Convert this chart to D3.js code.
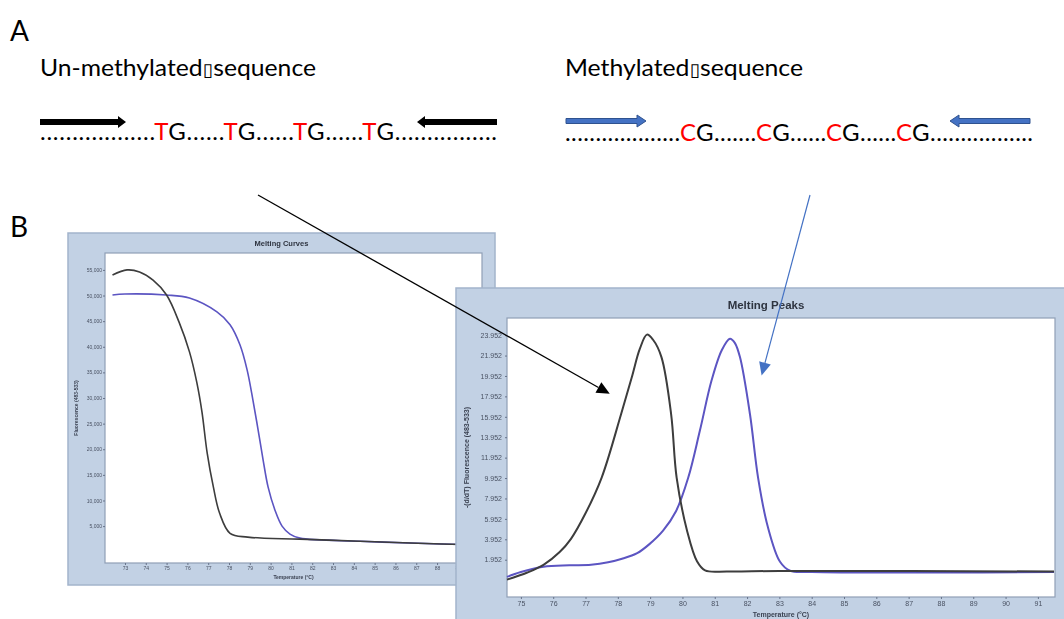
<!DOCTYPE html>
<html lang="en">
<head>
<meta charset="UTF-8">
<title>Methylation melting analysis</title>
<script src="https://d3js.org/d3.v7.min.js"></script>
<style>
  body { margin: 0; background: #fff; }
  svg { display: block; font-family: Lato, "Liberation Sans", sans-serif; }
</style>
</head>
<body>
<svg id="fig" width="1064" height="619"></svg>
<script>
// ---- data -----------------------------------------------------------
// Melting curves (left): temperature (°C) vs fluorescence
const curveTempUnmeth  = [72.4, 73.1, 73.7, 74.35, 75.0, 75.6, 76.1, 76.45, 76.7, 76.95, 77.25, 77.55, 78.05, 78.9, 81.4, 84.3, 86.7, 90.2];
const curveFluorUnmeth = [54.0, 55.0, 54.6, 53.0, 50.1, 44.8, 39.0, 33.1, 27.3, 19.3, 12.6, 7.5, 3.6, 2.85, 2.45, 2.05, 1.7, 1.3];
const curveTempMeth    = [72.4, 73.0, 75.0, 76.1, 77.42, 78.05, 78.53, 78.87, 79.15, 79.4, 79.64, 79.88, 80.21, 80.55, 80.93, 81.41, 84.3, 86.7, 90.2];
const curveFluorMeth   = [50.1, 50.3, 50.1, 49.5, 46.8, 44.3, 40.35, 35.5, 29.6, 23.75, 17.9, 12.6, 8.1, 5.0, 3.45, 2.65, 2.05, 1.7, 1.3];

// Melting peaks (right): temperature (°C) vs -d(F)/dT
const peakTempUnmeth = [74.57, 75.2, 75.7, 76.2, 76.55, 77.0, 77.5, 78.1, 78.43, 78.68, 78.9, 79.09, 79.35, 79.65, 79.82, 80.15, 80.45, 80.7, 81.4, 83.0, 91.5];
const peakValUnmeth  = [0.0, 0.7, 1.45, 2.7, 4.0, 6.5, 10.0, 16.2, 19.8, 22.6, 24.0, 23.5, 21.8, 16.2, 10.0, 4.7, 1.8, 0.9, 0.8, 0.85, 0.8];
const peakTempMeth   = [74.57, 75.0, 75.7, 76.5, 77.17, 77.7, 78.13, 78.6, 78.96, 79.4, 79.8, 80.18, 80.54, 80.9, 81.22, 81.47, 81.62, 81.78, 82.09, 82.34, 82.64, 83.02, 83.33, 84.0, 91.5];
const peakValMeth    = [0.27, 0.75, 1.26, 1.4, 1.46, 1.7, 2.05, 2.6, 3.43, 4.8, 6.7, 10.0, 14.6, 19.5, 22.5, 23.6, 23.2, 21.8, 16.2, 10.0, 5.2, 1.75, 0.87, 0.75, 0.75];

// tick values
const curveTempTicks  = d3.range(73, 91);
const curveFluorTicks = [5, 10, 15, 20, 25, 30, 35, 40, 45, 50, 55];
const peakTempTicks   = d3.range(75, 92);
const peakValTicks    = [1.952, 3.952, 5.952, 7.952, 9.952, 11.952, 13.952, 15.952, 17.952, 19.952, 21.952, 23.952];

// sequences (panel A)
const unmethSeq = [["..................", "k"], ["T", "r"], ["G", "k"], ["......", "k"], ["T", "r"], ["G", "k"],
                   ["......", "k"], ["T", "r"], ["G", "k"], ["......", "k"], ["T", "r"], ["G", "k"], ["................", "k"]];
const methSeq   = [["...................", "k"], ["C", "r"], ["G", "k"], [".......", "k"], ["C", "r"], ["G", "k"],
                   ["......", "k"], ["C", "r"], ["G", "k"], ["......", "k"], ["C", "r"], ["G", "k"], [".................", "k"]];

// ---- drawing --------------------------------------------------------
const svg = d3.select("#fig");
svg.append("rect").attr("width", 1064).attr("height", 619).attr("fill", "#fff");

const defs = svg.append("defs");
defs.append("filter").attr("id", "soft")
  .append("feGaussianBlur").attr("stdDeviation", 0.55);

// panel letters
svg.append("text").attr("x", 10).attr("y", 41).attr("font-size", 28).text("A");
svg.append("text").attr("x", 10).attr("y", 237).attr("font-size", 28).text("B");

// sequence titles
function seqTitle(x, y, first, len) {
  const t = svg.append("text").attr("x", x).attr("y", y).attr("font-size", 23)
    .attr("textLength", len).attr("lengthAdjust", "spacingAndGlyphs");
  t.append("tspan").text(first);
  t.append("tspan").attr("font-family", "DejaVu Sans").attr("font-size", 18).text("\u25AF");
  t.append("tspan").text("sequence");
}
seqTitle(40, 76, "Un-methylated", 276);
seqTitle(565, 76, "Methylated", 238);

function seqLine(x, y, segs, len) {
  const t = svg.append("text").attr("x", x).attr("y", y).attr("font-size", 24)
    .attr("textLength", len).attr("lengthAdjust", "spacing");
  segs.forEach(s => t.append("tspan").attr("fill", s[1] === "r" ? "#ff0000" : "#000").text(s[0]));
}
seqLine(40, 140, unmethSeq, 457);
seqLine(565, 141, methSeq, 468);

// primer block arrows
function blockArrow(xTail, xTip, y, thick, headH, headL, fill, stroke) {
  const d = xTip > xTail ? 1 : -1;
  const xb = xTip - d * headL;
  const pts = [[xTail, y - thick / 2], [xb, y - thick / 2], [xb, y - headH / 2], [xTip, y],
               [xb, y + headH / 2], [xb, y + thick / 2], [xTail, y + thick / 2]];
  svg.append("polygon").attr("points", pts.map(p => p.join(",")).join(" "))
    .attr("fill", fill).attr("stroke", stroke).attr("stroke-width", stroke === "none" ? 0 : 1);
}
blockArrow(40, 126, 122, 6, 12, 8, "#000", "none");
blockArrow(497, 417, 122, 6, 12, 8, "#000", "none");
blockArrow(566, 646, 121, 5, 12, 9, "#4472c4", "#2f528f");
blockArrow(1030, 950, 121, 5, 12, 9, "#4472c4", "#2f528f");

// melting chart panel
function meltPanel(cfg) {
  const g = svg.append("g").attr("filter", "url(#soft)");
  g.append("rect").attr("x", cfg.panel.x).attr("y", cfg.panel.y)
    .attr("width", cfg.panel.w).attr("height", cfg.panel.h)
    .attr("fill", "#c2d1e4").attr("stroke", "#a3b4cb").attr("stroke-width", 1.5);
  g.append("rect").attr("x", cfg.plot.x).attr("y", cfg.plot.y)
    .attr("width", cfg.plot.w).attr("height", cfg.plot.h)
    .attr("fill", "#fff").attr("stroke", "#8f9fb6").attr("stroke-width", 1.2);

  const x = d3.scaleLinear().domain(cfg.xDomain).range([cfg.plot.x, cfg.plot.x + cfg.plot.w]);
  const y = d3.scaleLinear().domain(cfg.yDomain).range([cfg.plot.y + cfg.plot.h, cfg.plot.y]);

  const xAxis = g.append("g").attr("transform", `translate(0,${cfg.plot.y + cfg.plot.h})`)
    .call(d3.axisBottom(x).tickValues(cfg.xTicks).tickSize(2).tickPadding(cfg.xPad).tickFormat(d3.format("d")));
  const yAxis = g.append("g").attr("transform", `translate(${cfg.plot.x},0)`)
    .call(d3.axisLeft(y).tickValues(cfg.yTicks).tickSize(2).tickPadding(cfg.yPad).tickFormat(cfg.yFormat));
  [xAxis, yAxis].forEach(a => {
    a.select(".domain").remove();
    a.selectAll("line").attr("stroke", "#67738a");
    a.selectAll("text").attr("fill", "#4a5263").attr("font-size", cfg.tickFont)
      .attr("font-family", "'Liberation Sans', sans-serif");
  });

  g.append("text").attr("x", cfg.panel.x + cfg.panel.w / 2).attr("y", cfg.titleY)
    .attr("text-anchor", "middle").attr("font-weight", "bold").attr("font-size", cfg.titleFont)
    .attr("font-family", "'Liberation Sans', sans-serif").attr("fill", "#2e3440").text(cfg.title);
  g.append("text").attr("x", cfg.plot.x + cfg.plot.w / 2).attr("y", cfg.xTitleY)
    .attr("text-anchor", "middle").attr("font-weight", "bold").attr("font-size", cfg.tickFont)
    .attr("font-family", "'Liberation Sans', sans-serif").attr("fill", "#3b4252").text("Temperature (\u00B0C)");
  g.append("text").attr("transform", `translate(${cfg.yTitleX},${cfg.plot.y + cfg.plot.h * cfg.yTitlePos}) rotate(-90)`)
    .attr("text-anchor", "middle").attr("font-weight", "bold").attr("font-size", cfg.tickFont)
    .attr("font-family", "'Liberation Sans', sans-serif").attr("fill", "#3b4252").text(cfg.yTitle);

  const line = d3.line().x(d => x(d[0])).y(d => y(d[1])).curve(d3.curveCatmullRom.alpha(0.5));
  g.append("path").datum(d3.zip(cfg.tMeth, cfg.vMeth)).attr("d", line)
    .attr("fill", "none").attr("stroke", "#5b54c2").attr("stroke-width", cfg.lw);
  g.append("path").datum(d3.zip(cfg.tUnmeth, cfg.vUnmeth)).attr("d", line)
    .attr("fill", "none").attr("stroke", "#3c3c3c").attr("stroke-width", cfg.lw);
  return { x, y };
}

meltPanel({
  panel: { x: 68, y: 233, w: 427, h: 352 },
  plot: { x: 105, y: 253, w: 377, h: 310 },
  xDomain: [72.04, 90.16], yDomain: [-2.2, 58.3],
  xTicks: curveTempTicks, yTicks: curveFluorTicks,
  yFormat: d => d3.format(",")(d * 1000),
  xPad: 1, yPad: 1, tickFont: 5,
  title: "Melting Curves", titleY: 246, titleFont: 7.5,
  xTitleY: 579, yTitle: "Fluorescence (483-533)", yTitleX: 78, yTitlePos: 0.5,
  tMeth: curveTempMeth, vMeth: curveFluorMeth, tUnmeth: curveTempUnmeth, vUnmeth: curveFluorUnmeth,
  lw: 1.6
});

const peaks = meltPanel({
  panel: { x: 456, y: 288, w: 620, h: 340 },
  plot: { x: 507, y: 318, w: 548, h: 279 },
  xDomain: [74.57, 91.53], yDomain: [-1.70, 25.63],
  xTicks: peakTempTicks, yTicks: peakValTicks,
  yFormat: d3.format(".3f"),
  xPad: 2, yPad: 3, tickFont: 7,
  title: "Melting Peaks", titleY: 309, titleFont: 11.5,
  xTitleY: 617, yTitle: "-(d/dT) Fluorescence (483-533)", yTitleX: 469, yTitlePos: 0.5,
  tMeth: peakTempMeth, vMeth: peakValMeth, tUnmeth: peakTempUnmeth, vUnmeth: peakValUnmeth,
  lw: 2
});

// pointer arrows from the sequences to the peaks
function pointer(x0, y0, tip, color, w) {
  const x1 = peaks.x(tip[0]), y1 = peaks.y(tip[1]);
  const dx = x1 - x0, dy = y1 - y0, L = Math.hypot(dx, dy);
  const ux = dx / L, uy = dy / L, hl = 13, hw = 6;
  const bx = x1 - ux * hl, by = y1 - uy * hl;
  svg.append("line").attr("x1", x0).attr("y1", y0).attr("x2", bx).attr("y2", by)
    .attr("stroke", color).attr("stroke-width", w);
  svg.append("polygon")
    .attr("points", [[x1, y1], [bx - uy * hw, by + ux * hw], [bx + uy * hw, by - ux * hw]].map(p => p.join(",")).join(" "))
    .attr("fill", color);
}
pointer(258, 195, [77.75, 18.2], "#000", 1.3);
pointer(810, 195, [82.45, 20.0], "#4472c4", 1.2);
</script>
</body>
</html>
